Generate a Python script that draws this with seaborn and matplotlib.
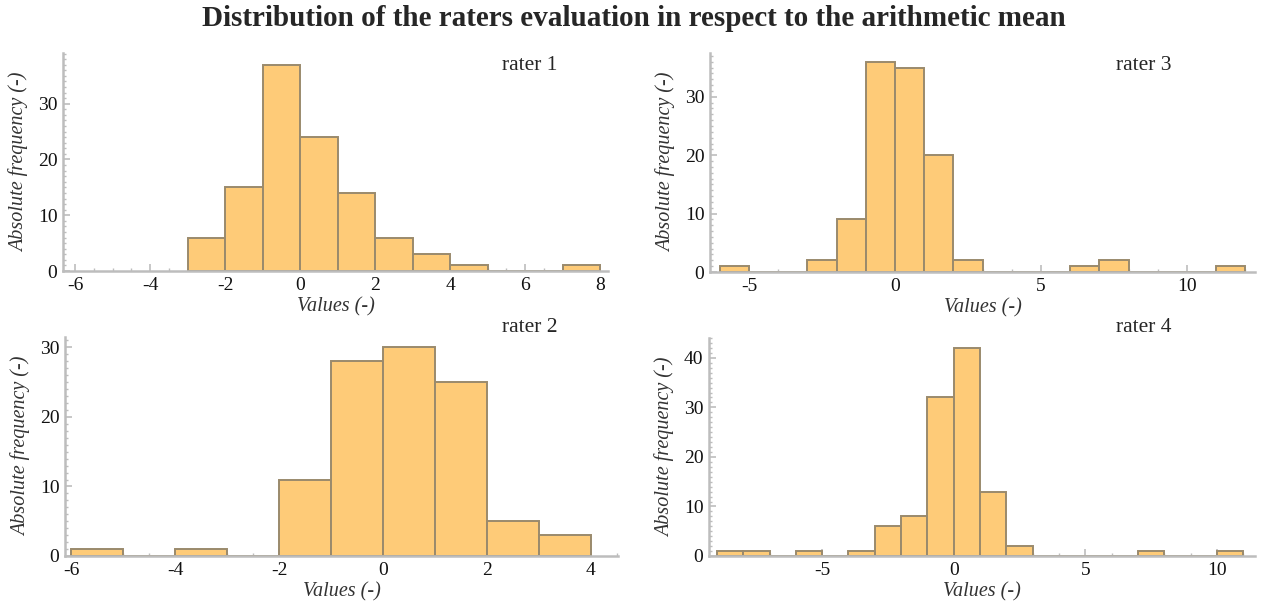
import numpy as np
import pandas as pd
import matplotlib
matplotlib.use("Agg")
import matplotlib.pyplot as plt
from matplotlib.ticker import MultipleLocator
import seaborn as sns

# ---- data (bin left edges, bin width 1, and counts) ----
r1_bins = [-3, -2, -1, 0, 1, 2, 3, 4, 7]
r1_counts = [6, 15, 37, 24, 14, 6, 3, 1, 1]

r2_bins = [-6, -4, -2, -1, 0, 1, 2, 3]
r2_counts = [1, 1, 11, 28, 30, 25, 5, 3]

r3_bins = [-6, -3, -2, -1, 0, 1, 2, 6, 7, 11]
r3_counts = [1, 2, 9, 36, 35, 20, 2, 1, 2, 1]

r4_bins = [-9, -8, -6, -4, -3, -2, -1, 0, 1, 2, 7, 10]
r4_counts = [1, 1, 1, 1, 6, 8, 32, 42, 13, 2, 1, 1]

title = "Distribution of the raters evaluation in respect to the arithmetic mean"
panel_names = ["rater 1", "rater 2", "rater 3", "rater 4"]
xlabel = "Values (-)"
ylabel = "Absolute frequency (-)"

sns.set_style("white")
plt.rcParams['font.family'] = ['Liberation Serif', 'DejaVu Serif']

fig = plt.figure(figsize=(12.68, 6.08), dpi=100)
W, H = 1268, 608

def ax_px(l, r, b, t):
    return fig.add_axes([l / W, 1 - b / H, (r - l) / W, (b - t) / H])

panels = [
    (r1_bins, r1_counts, panel_names[0], (63, 608, 271, 53), (-6.32, 8.21), (0, 39.1), 2, 0.5),
    (r3_bins, r3_counts, panel_names[2], (710, 1255, 272, 53), (-6.34, 12.33), (0, 37.5), 5, 1),
    (r2_bins, r2_counts, panel_names[1], (65, 618, 556, 337), (-6.12, 4.52), (0, 31.5), 2, 0.5),
    (r4_bins, r4_counts, panel_names[3], (709, 1255, 556, 338), (-9.3, 11.45), (0, 44), 5, 1),
]

fill = "#FECB78"
edge = "#9A8A6C"
axc = "#BDBDBD"

for bins, counts, name, box, xl, yl, xmaj, xmin in panels:
    ax = ax_px(*box)
    df = pd.DataFrame({"x": np.array(bins, dtype=float) + 0.5,
                       "w": np.array(counts, dtype=float)})
    lo, hi = min(bins), max(bins) + 1
    sns.histplot(data=df, x="x", weights="w", binwidth=1, binrange=(lo, hi),
                 color=fill, alpha=1, edgecolor=edge, linewidth=1.4, ax=ax)
    ax.set_xlim(*xl)
    ax.set_ylim(*yl)
    for s in ["top", "right"]:
        ax.spines[s].set_visible(False)
    for s in ["left", "bottom"]:
        ax.spines[s].set_color(axc)
        ax.spines[s].set_linewidth(1.8)
    ax.xaxis.set_major_locator(MultipleLocator(xmaj))
    ax.xaxis.set_minor_locator(MultipleLocator(xmin))
    ax.yaxis.set_major_locator(MultipleLocator(10))
    ax.yaxis.set_minor_locator(MultipleLocator(1))
    ax.tick_params(which="major", direction="in", length=5, width=1.2, color=axc,
                   labelsize=14, labelcolor="#111111", pad=4)
    ax.tick_params(which="minor", direction="in", length=2.5, width=1.0, color=axc)
    ax.tick_params(axis="x", which="both", bottom=True)
    ax.tick_params(axis="y", which="both", left=True)
    ax.xaxis.set_major_formatter(matplotlib.ticker.FuncFormatter(
        lambda v, p: ("-" if v < 0 else "") + f"{abs(v):g}"))
    ax.set_xlabel(xlabel, fontsize=14.5, fontstyle="italic", color="#333333", labelpad=3)
    ax.set_ylabel(ylabel, fontsize=14.5, fontstyle="italic", color="#333333", labelpad=6)
    ax.patch.set_alpha(0)
    l, r, b, t = box
    ty = 65 if t < 100 else 327
    tx = 557 if l < 300 else 1172
    fig.text(tx / W, 1 - ty / H, name, ha="right", va="center", fontsize=15.5)

fig.text(0.5, 1 - 18 / H, title, ha="center", va="center", fontsize=21, fontweight="bold")

fig.savefig("out.png", dpi=100)
